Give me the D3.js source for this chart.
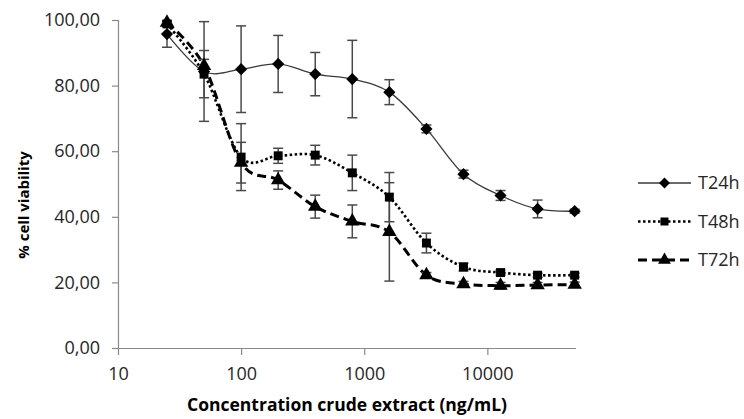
<!DOCTYPE html>
<html>
<head>
<meta charset="utf-8">
<script src="https://cdn.jsdelivr.net/npm/d3@7"></script>
<style>
  body { margin: 0; background: #fff; }
  text { font-family: "Open Sans", "Liberation Sans", sans-serif; }
</style>
</head>
<body>
<div id="chart"></div>
<script>
// data
let concentrations = [25, 50, 100, 200, 400, 800, 1600, 3200, 6400, 12800, 25600, 51200];
let t24 = [95.7, 84.3, 85.0, 86.6, 83.5, 82.0, 78.0, 66.8, 53.0, 46.5, 42.4, 41.7];
let t24Err = [4.0, 15.2, 13.2, 8.7, 6.6, 11.8, 3.8, 1.2, 1.2, 1.5, 2.7, 0.6];
let t48 = [98.8, 83.5, 58.2, 58.6, 58.8, 53.4, 46.0, 32.0, 24.7, 23.0, 22.2, 22.2];
let t48Err = [0.8, 7.2, 10.2, 2.3, 3.0, 5.4, 7.5, 3.0, 1.2, 0.8, 0.6, 0.6];
let t72 = [99.2, 86.0, 56.5, 51.2, 43.1, 38.6, 35.4, 22.2, 19.5, 19.0, 19.2, 19.3];
let t72Err = [0.6, 2.0, 6.2, 2.8, 3.5, 5.0, 15.0, 0.8, 0.8, 1.0, 0.8, 0.8];
let seriesNames = ["T24h", "T48h", "T72h"];
let xTicks = [10, 100, 1000, 10000];
let yTicks = [0, 20, 40, 60, 80, 100];

let svgWidth = 744,
  svgHeight = 419;

let svg = d3
  .select("#chart")
  .append("svg")
  .attr("width", svgWidth)
  .attr("height", svgHeight);

// scales
let xScale = d3.scaleLog().domain([10, 52500]).range([118, 576]);
let yScale = d3.scaleLinear().domain([0, 100]).range([348, 20]);

let fmt = (v) => d3.format(".2f")(v).replace(".", ",");

// y axis
let yAxis = svg
  .append("g")
  .attr("transform", `translate(${xScale(10)},0)`)
  .call(d3.axisLeft(yScale).tickValues(yTicks).tickFormat(fmt).tickSize(6).tickPadding(12));

// x axis
let xAxis = svg
  .append("g")
  .attr("transform", `translate(0,${yScale(0)})`)
  .call(d3.axisBottom(xScale).tickValues(xTicks).tickFormat(d3.format("d")).tickSize(7).tickPadding(12));

[yAxis, xAxis].forEach((ax) => {
  ax.select(".domain").attr("stroke", "#8a8a8a").attr("stroke-width", 1.2);
  ax.selectAll(".tick line").attr("stroke", "#8a8a8a").attr("stroke-width", 1.2);
  ax.selectAll(".tick text")
    .attr("fill", "#262626")
    .style("font-size", "18px");
});
xAxis.select(".domain").attr("d", `M${xScale(10)},0.5H${xScale(52500)}`);
yAxis.select(".domain").attr("d", `M0.5,${yScale(100)}V${yScale(0)}`);

// axis titles
svg
  .append("text")
  .attr("transform", `translate(29, ${(yScale(0) + yScale(100)) / 2 + 21}) rotate(-90)`)
  .attr("text-anchor", "middle")
  .attr("font-weight", "bold")
  .attr("font-size", "15px")
  .attr("fill", "#000")
  .text("% cell viability");

svg
  .append("text")
  .attr("x", (xScale(10) + xScale(52500)) / 2)
  .attr("y", 411)
  .attr("text-anchor", "middle")
  .attr("font-weight", "bold")
  .attr("font-size", "17.5px")
  .attr("fill", "#000")
  .text("Concentration crude extract (ng/mL)");

// series setup
let seriesList = [
  { name: seriesNames[0], values: t24, errs: t24Err, dash: null, width: 1.3, color: "#3a3a3a", marker: d3.symbolDiamond2, size: 95 },
  { name: seriesNames[1], values: t48, errs: t48Err, dash: "2.5,2.5", width: 2.6, color: "#000", marker: d3.symbolSquare, size: 80 },
  { name: seriesNames[2], values: t72, errs: t72Err, dash: "9,5", width: 3, color: "#000", marker: d3.symbolTriangle, size: 90 },
];

let line = d3
  .line()
  .x((d) => xScale(d[0]))
  .y((d) => yScale(d[1]))
  .curve(d3.curveCardinal.tension(0));

let plotGroup = svg.append("g");

seriesList.forEach((s) => {
  let pts = concentrations.map((c, i) => [c, s.values[i], s.errs[i]]);

  plotGroup
    .append("path")
    .datum(pts)
    .attr("d", line)
    .attr("fill", "none")
    .attr("stroke", s.color)
    .attr("stroke-width", s.width)
    .attr("stroke-dasharray", s.dash);
});

// error bars
seriesList.forEach((s) => {
  let pts = concentrations.map((c, i) => [c, s.values[i], s.errs[i]]);
  let eb = plotGroup.append("g").attr("stroke", "#4a4a4a").attr("stroke-width", 1.5);
  eb.selectAll(".bar")
    .data(pts)
    .enter()
    .append("line")
    .attr("x1", (d) => xScale(d[0]))
    .attr("x2", (d) => xScale(d[0]))
    .attr("y1", (d) => yScale(d[1] + d[2]))
    .attr("y2", (d) => yScale(d[1] - d[2]));
  eb.selectAll(".capTop")
    .data(pts)
    .enter()
    .append("line")
    .attr("x1", (d) => xScale(d[0]) - 5)
    .attr("x2", (d) => xScale(d[0]) + 5)
    .attr("y1", (d) => yScale(d[1] + d[2]))
    .attr("y2", (d) => yScale(d[1] + d[2]));
  eb.selectAll(".capBot")
    .data(pts)
    .enter()
    .append("line")
    .attr("x1", (d) => xScale(d[0]) - 5)
    .attr("x2", (d) => xScale(d[0]) + 5)
    .attr("y1", (d) => yScale(d[1] - d[2]))
    .attr("y2", (d) => yScale(d[1] - d[2]));
});

// markers
seriesList.forEach((s) => {
  plotGroup
    .append("g")
    .selectAll("path")
    .data(concentrations.map((c, i) => [c, s.values[i]]))
    .enter()
    .append("path")
    .attr("d", d3.symbol().type(s.marker).size(s.size))
    .attr("transform", (d) => `translate(${xScale(d[0])},${yScale(d[1])})`)
    .attr("fill", "#000");
});

// legend
let legend = svg.append("g").attr("transform", "translate(638,183)");
seriesList.forEach((s, i) => {
  let row = legend.append("g").attr("transform", `translate(0,${i * 38.5})`);
  row
    .append("line")
    .attr("x1", 0)
    .attr("x2", 53)
    .attr("stroke", s.color)
    .attr("stroke-width", s.width)
    .attr("stroke-dasharray", s.dash);
  row
    .append("path")
    .attr("d", d3.symbol().type(s.marker).size(s.size * 0.8))
    .attr("transform", "translate(26.5,0)")
    .attr("fill", "#000");
  row
    .append("text")
    .attr("x", 60)
    .attr("dy", "0.35em")
    .attr("font-size", "18px")
    .attr("fill", "#262626")
    .text(s.name);
});
</script>
</body>
</html>
